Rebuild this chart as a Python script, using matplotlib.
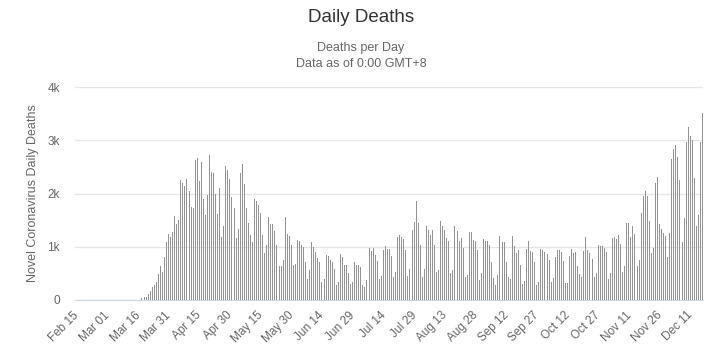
import numpy as np
import pandas as pd
import matplotlib
matplotlib.use("Agg")
import matplotlib.pyplot as plt
from matplotlib.ticker import FuncFormatter

# 每日死亡人数，2020-02-15 起
deaths_feb_mar = [0, 0, 0, 0, 0, 0, 0, 0, 0, 0, 0, 0, 0, 0, 0, 0,
                  0, 0, 0, 0, 0, 0, 0, 0, 0, 0, 0, 0, 0, 0, 0, 0]
deaths_spring = [30, 50, 50, 110, 170, 250, 290, 340, 490, 640, 520, 815, 1090, 1240, 1190, 1280,
                 1570, 1420, 1500, 2250, 2200, 2150, 2270, 2050, 1750, 1730, 2620, 2670, 2240, 2590,
                 1890, 1590, 1970, 2730, 2410, 2380, 2000, 1620, 2110, 1180, 1390, 2520, 2440, 2270,
                 1940, 1730, 1170, 1340, 2390, 2560, 2170, 1720, 1450, 1220, 1080, 1900, 1860, 1790,
                 1640, 1230, 880, 1030, 1550, 1430, 1430, 1300, 1040, 630]
deaths_summer = [630, 755, 1550, 1240, 1210, 1030, 650, 680, 1130, 1100, 1040, 990, 720, 390, 570,
                 1090, 990, 905, 790, 705, 330, 400, 850, 820, 755, 715, 580, 280, 340, 870, 810,
                 650, 650, 515, 300, 340, 715, 665, 655, 620, 280, 250, 380, 980, 925, 970, 845, 740,
                 390, 450, 945, 1005, 955, 955, 820, 430, 535, 1190, 1225, 1180, 1150, 930, 460, 585,
                 1320, 1460, 1850, 1440, 1025, 430]
deaths_autumn = [580, 1395, 1320, 1230, 1320, 1025, 530, 555, 1490, 1395, 1310, 1155, 1100, 510, 565,
                 1395, 1290, 1100, 1170, 970, 440, 470, 1280, 1280, 1130, 1110, 945, 380, 510, 1145,
                 1100, 1110, 1025, 705, 415, 280, 470, 1210, 1080, 1080, 705, 440, 390, 1195, 1005,
                 880, 945, 655, 300, 360, 960, 1110, 925, 905, 715, 280, 345, 960, 945, 905, 870, 755,
                 335, 420, 800, 930, 945, 905, 725, 315, 320]
deaths_winter = [825, 950, 875, 910, 640, 480, 440, 920, 1175, 940, 890, 770, 425, 500, 1030, 1020,
                 1010, 970, 900, 390, 500, 1155, 1190, 1140, 1225, 1045, 520, 640, 1455, 1440, 1190,
                 1390, 1240, 645, 750, 1640, 1950, 2045, 1960, 1490, 875, 980, 2190, 2305, 1425, 1340,
                 1260, 1200, 810, 1250, 2640, 2845, 2905, 2690, 2260, 1095, 1540, 2960, 3240, 3075,
                 3000, 2290, 1390, 1600, 2975, 3505]

start_date = "2020-02-15"
label_step = 15
y_ticks = [0, 1000, 2000, 3000, 4000]

title = "Daily Deaths"
subtitle = "Deaths per Day\nData as of 0:00 GMT+8"
y_title = "Novel Coronavirus Daily Deaths"


def k_format(v, pos):
    return "0" if v == 0 else f"{int(v / 1000)}k"


def main():
    plt.rcParams['font.family'] = ['Liberation Sans', 'DejaVu Sans']

    deaths = deaths_feb_mar + deaths_spring + deaths_summer + deaths_autumn + deaths_winter
    dates = pd.date_range(start_date, periods=len(deaths), freq="D")
    x = np.arange(len(deaths))

    W, H = 721, 357
    fig = plt.figure(figsize=(W / 100, H / 100), dpi=100)
    # 绘图区像素位置: 左 75, 右 703, 上 87, 下 300
    ax = fig.add_axes([75 / W, (H - 300) / H, (703 - 75) / W, (300 - 87) / H])

    # 细柱: 每根 1px 宽的竖线，对齐像素，避免相邻柱子糊在一起
    ax.vlines(x, 0, deaths, colors="#939393", linewidth=0.72, snap=True,
              antialiased=False, zorder=3)

    ax.set_xlim(-0.5, len(deaths) - 0.5)
    ax.set_ylim(0, 4000)

    # 网格与坐标轴
    ax.set_yticks(y_ticks)
    ax.yaxis.set_major_formatter(FuncFormatter(k_format))
    ax.grid(axis="y", color="#e6e6e6", linewidth=1, zorder=0)
    for side in ["top", "right", "left"]:
        ax.spines[side].set_visible(False)
    ax.spines["bottom"].set_color("#ccd6eb")
    ax.spines["bottom"].set_zorder(4)
    ax.tick_params(axis="y", length=0, pad=11, labelsize=8.5, labelcolor="#666666")

    tick_idx = x[::label_step]
    ax.set_xticks(tick_idx)
    ax.set_xticklabels([dates[i].strftime("%b %d") for i in tick_idx])
    ax.tick_params(axis="x", length=0, pad=9, labelsize=8.5, labelcolor="#666666")
    for lbl in ax.get_xticklabels():
        lbl.set_rotation(45)
        lbl.set_ha("right")
        lbl.set_va("center_baseline")
        lbl.set_rotation_mode("anchor")

    ax.set_ylabel(y_title, fontsize=9, color="#666666")
    ax.yaxis.set_label_coords((39 - 75) / (703 - 75), 0.5)

    fig.text(361 / W, 1 - 18 / H, title, ha="center", va="center", fontsize=13.5, color="#333333")
    fig.text(361 / W, 1 - 56 / H, subtitle, ha="center", va="center", fontsize=9,
             color="#666666", linespacing=1.45)

    fig.savefig("out.png", dpi=100, facecolor="white")
    plt.close(fig)


if __name__ == '__main__':
    main()
